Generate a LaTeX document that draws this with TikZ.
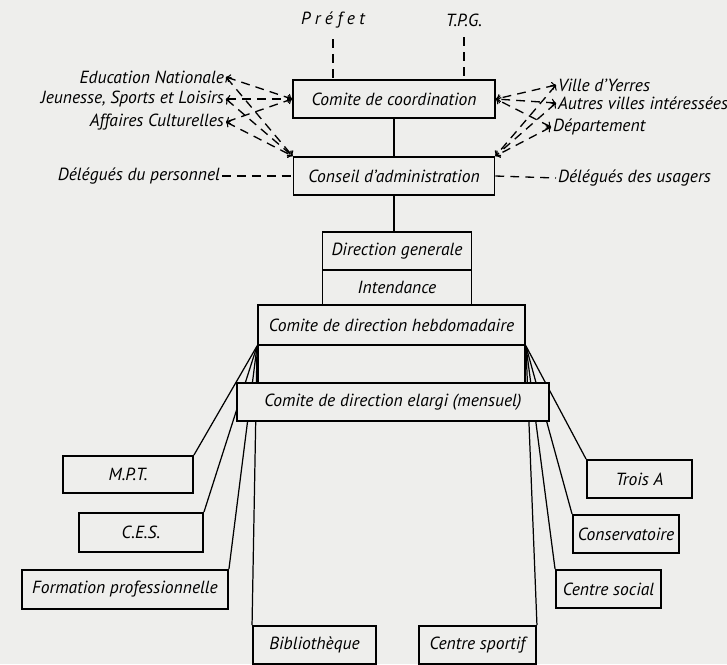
\documentclass[tikz,border=0pt]{standalone}
\usepackage{fontspec}
\setsansfont{PT Sans}
\usepackage{tikz}
\usetikzlibrary{arrows, positioning}
\definecolor{paper}{RGB}{238,238,236}
\tikzstyle{box} = [draw, line width=1.1pt, fill=paper, inner sep=2pt, font=\sffamily\itshape\fontsize{10}{12}\selectfont]
\tikzstyle{lbl} = [inner sep=1pt, font=\sffamily\itshape\fontsize{10}{12}\selectfont]
\tikzstyle{dots} = [dash pattern=on 5pt off 3.5pt, line width=0.75pt]
\tikzstyle{link} = [line width=0.7pt]

\begin{document}
\begin{tikzpicture}[x=0.02cm, y=-0.02cm, >=to]
			\fill [paper] (0, 0) rectangle (727, 664);
			\useasboundingbox (0, 0) rectangle (727, 664);

			\node (Prefet) [lbl, inner ysep=6pt] at (333, 20) {\addfontfeature{LetterSpace=25}Préfet};
			\node (TPG) [lbl, inner ysep=6pt] at (464, 20) {T.P.G.};

			\node (Coord) [box, minimum width=4.04cm, minimum height=0.76cm] at (394, 99) {Comite de coordination};
			\node (Conseil) [box, minimum width=4.02cm, minimum height=0.76cm] at (394, 176) {Conseil d'administration};

			\draw [dots] (Prefet) -- (Prefet |- Coord.north);
			\draw [dots] (TPG) -- (TPG |- Coord.north);
			\draw [link] (Coord) -- (Conseil);

			\node (EduNat) [lbl, anchor=east] at (226, 77) {Education Nationale};
			\node (Jeunesse) [lbl, anchor=east] at (226, 99) {Jeunesse, Sports et Loisirs};
			\node (Affaires) [lbl, anchor=east] at (226, 122) {Affaires Culturelles};
			\node (DelPers) [lbl, anchor=east] at (222, 176) {Délégués du personnel};

			\draw [dots, <->] (EduNat.east) -- (Coord.west);
			\draw [dots, <->] (Jeunesse.east) -- (Coord.west);
			\draw [dots, <->] (Affaires.east) -- (Coord.west);
			\draw [dots, <->] (EduNat.east) -- (Conseil.north west);
			\draw [dots, <->] (Jeunesse.east) -- (Conseil.north west);
			\draw [dots, <->] (Affaires.east) -- (Conseil.north west);
			\draw [dots] (DelPers.east) -- (Conseil.west);

			\node (Yerres) [lbl, anchor=west] at (556, 85) {Ville d'Yerres};
			\node (Autres) [lbl, anchor=west] at (556, 103) {Autres villes intéressées};
			\node (Depart) [lbl, anchor=west] at (551, 127) {Département};
			\node (DelUsag) [lbl, anchor=west] at (556, 178) {Délégués des usagers};

			\draw [dots, <->] (Yerres.west) -- (Coord.east);
			\draw [dots, <->] (Autres.west) -- (Coord.east);
			\draw [dots, <->] (Depart.west) -- (Coord.east);
			\draw [dots, <->] (Yerres.west) -- (Conseil.north east);
			\draw [dots, <->] (Autres.west) -- (Conseil.north east);
			\draw [dots, <->] (Depart.west) -- (Conseil.north east);
			\draw [dots] (Conseil.east) -- (DelUsag.west);

			\node (DirGen) [box, minimum width=2.98cm, minimum height=0.76cm] at (397, 251) {Direction generale};
			\node (Intend) [box, minimum width=2.98cm, minimum height=0.70cm] at (397, 287.5) {Intendance};
			\node (Hebdo) [box, minimum width=5.34cm, minimum height=0.80cm] at (391.5, 325) {Comite de direction hebdomadaire};
			\node (Blank) [box, minimum width=5.34cm, minimum height=0.76cm] at (391.5, 364) {};

			\draw [link] (Conseil) -- (Conseil |- DirGen.north);

			\node (MPT) [box, minimum width=2.60cm, minimum height=0.74cm] at (128, 474.5) {M.P.T.};
			\node (CES) [box, minimum width=2.48cm, minimum height=0.78cm] at (141, 532.5) {C.E.S.};
			\node (Formation) [box, minimum width=4.12cm, minimum height=0.78cm] at (125, 589.5) {Formation professionnelle};
			\node (Biblio) [box, minimum width=2.46cm, minimum height=0.76cm] at (314.5, 645) {Bibliothèque};
			\node (Sportif) [box, minimum width=2.34cm, minimum height=0.76cm] at (477.5, 645) {Centre sportif};
			\node (TroisA) [box, minimum width=2.10cm, minimum height=0.76cm] at (639.5, 479) {Trois A};
			\node (Conserv) [box, minimum width=2.12cm, minimum height=0.76cm] at (626, 534) {Conservatoire};
			\node (Social) [box, minimum width=2.10cm, minimum height=0.76cm] at (608.5, 589) {Centre social};

			\draw [link] (Hebdo.south west) -- (MPT.north east);
			\draw [link] (Hebdo.south west) -- (CES.north east);
			\draw [link] (Hebdo.south west) -- (Formation.north east);
			\draw [link] (Hebdo.south west) -- (Biblio.north west);
			\draw [link] (Hebdo.south east) -- (TroisA.north west);
			\draw [link] (Hebdo.south east) -- (Conserv.north west);
			\draw [link] (Hebdo.south east) -- (Social.north west);
			\draw [link] (Hebdo.south east) -- (Sportif.north east);

			\node (Elargi) [box, minimum width=6.24cm, minimum height=0.76cm] at (393, 402) {Comite de direction elargi (mensuel)};
		\end{tikzpicture}
\end{document}
